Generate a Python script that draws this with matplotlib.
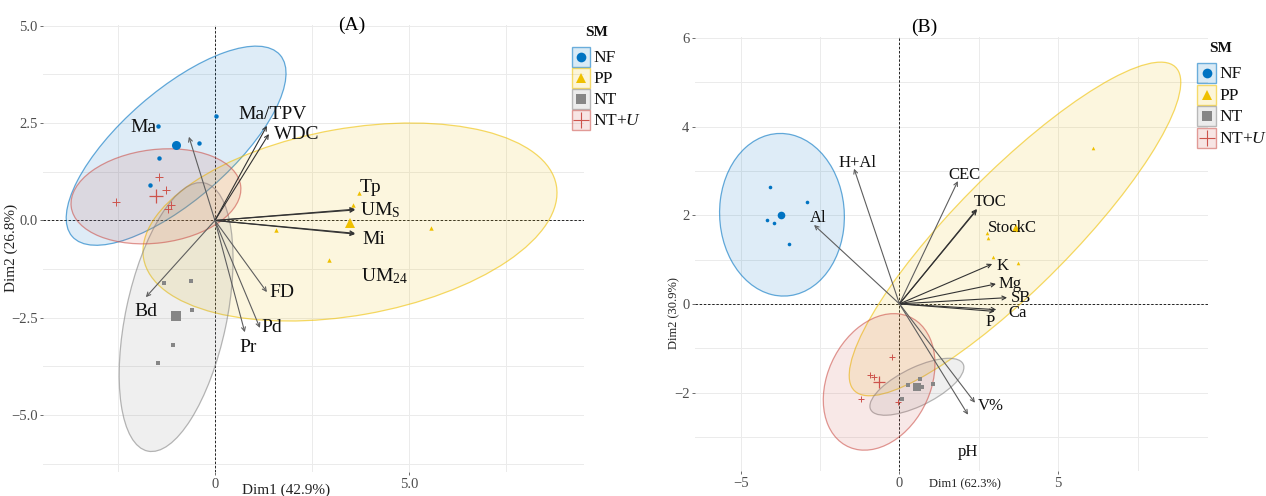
import matplotlib
matplotlib.use('Agg')
import matplotlib.pyplot as plt
import numpy as np
from matplotlib.patches import Ellipse, Rectangle
from matplotlib.colors import to_rgba

plt.rcParams['font.family'] = ['Liberation Serif', 'DejaVu Serif']
plt.rcParams['mathtext.fontset'] = 'custom'
plt.rcParams['mathtext.rm'] = 'Liberation Serif'
plt.rcParams['mathtext.it'] = 'Liberation Serif:italic'
plt.rcParams['mathtext.bf'] = 'Liberation Serif:bold'

# ---------------- groups ----------------
groups = ['NF', 'PP', 'NT', 'NT+U']
group_labels = ['NF', 'PP', 'NT', r'NT+$\mathit{U}$']
colors = ['#0073C2', '#EFC000', '#868686', '#CD534C']
markers = ['o', '^', 's', '+']

# ---------------- Panel A: individuals ----------------
a_nf_x = [-1.47, -0.41, 0.03, -1.44, -1.68]
a_nf_y = [2.43, 1.99, 2.69, 1.61, 0.91]
a_pp_x = [3.71, 3.56, 5.57, 1.57, 2.94]
a_pp_y = [0.71, 0.40, -0.19, -0.24, -1.02]
a_nt_x = [-1.31, -0.62, -0.59, -1.08, -1.47]
a_nt_y = [-1.61, -1.56, -2.30, -3.20, -3.66]
a_ntu_x = [-2.55, -1.44, -1.26, -1.13, -1.21]
a_ntu_y = [0.48, 1.12, 0.78, 0.40, 0.30]

# Panel A: ellipses (center x, center y, semi-axis a, semi-axis b, angle)
a_ell_cx = [-1.00, 3.48, -1.00, -1.52]
a_ell_cy = [1.92, -0.04, -2.48, 0.62]
a_ell_a = [3.55, 5.40, 3.52, 2.20]
a_ell_b = [1.40, 2.40, 1.30, 1.20]
a_ell_ang = [41, 10, 78, 7]

# Panel A: variables
a_vars = ['Ma', 'Ma/TPV', 'WDC', 'Tp', r'UM$_{\mathrm{S}}$', 'Mi', r'UM$_{\mathrm{24}}$', 'FD', 'Pd', 'Pr', 'Bd']
a_var_x = [-0.67, 1.34, 1.39, 3.61, 3.61, 3.61, 3.61, 1.34, 1.16, 0.77, -1.78]
a_var_y = [2.15, 2.43, 2.22, 0.29, 0.27, -0.35, -0.33, -1.84, -2.76, -2.87, -1.97]
a_lab_x = [-1.83, 1.49, 2.11, 4.02, 4.25, 4.10, 4.38, 1.73, 1.47, 0.85, -1.78]
a_lab_y = [2.40, 2.71, 2.22, 0.84, 0.27, -0.50, -1.43, -1.86, -2.76, -3.25, -2.33]
a_var_dark = [False, True, True, True, True, True, True, False, False, False, False]

# ---------------- Panel B: individuals ----------------
b_nf_x = [-4.07, -2.91, -4.17, -3.95, -3.48]
b_nf_y = [2.64, 2.30, 1.89, 1.83, 1.35]
b_pp_x = [6.10, 2.76, 2.79, 2.95, 3.73]
b_pp_y = [3.52, 1.60, 1.49, 1.06, 0.92]
b_nt_x = [0.27, 0.65, 0.71, 1.05, 0.08]
b_nt_y = [-1.83, -1.69, -1.87, -1.80, -2.14]
b_ntu_x = [-0.23, -0.93, -0.80, -1.21, -0.04]
b_ntu_y = [-1.20, -1.60, -1.65, -2.14, -2.21]

b_ell_cx = [-3.70, 3.64, 0.55, -0.64]
b_ell_cy = [2.01, 1.69, -1.87, -1.76]
b_ell_a = [1.97, 6.26, 1.55, 1.88]
b_ell_b = [1.83, 1.50, 0.45, 1.39]
b_ell_ang = [-10, 34.6, 18, 31.6]

b_vars = ['H+Al', 'CEC', 'TOC', 'StockC', 'K', 'Mg', 'SB', 'Ca', 'P', 'Al', 'V%', 'pH']
b_var_x = [-1.43, 1.84, 2.44, 2.44, 2.92, 3.04, 3.39, 3.05, 3.00, -2.69, 2.38, 2.16]
b_var_y = [3.05, 2.77, 2.14, 2.12, 0.90, 0.45, 0.14, -0.13, -0.17, 1.78, -2.23, -2.50]
b_lab_x = [-1.31, 2.06, 2.85, 3.55, 3.26, 3.50, 3.83, 3.72, 2.85, -2.56, 2.88, 2.16]
b_lab_y = [3.18, 2.91, 2.30, 1.71, 0.86, 0.45, 0.14, -0.20, -0.41, 1.94, -2.30, -3.34]
b_var_dark = [False, False, True, True, True, True, True, True, True, False, False, False]

W, H = 1266, 496
fig = plt.figure(figsize=(W / 100, H / 100), dpi=100)


def px_axes(l, t, r, b):
    return fig.add_axes([l / W, 1 - b / H, (r - l) / W, (b - t) / H])


def style_axes(ax):
    for s in ax.spines.values():
        s.set_visible(False)
    ax.grid(True, which='both', color='#ebebeb', lw=0.7)
    ax.set_axisbelow(True)
    ax.tick_params(which='major', length=2.5, width=0.6, color='#555555',
                   labelcolor='#4d4d4d', labelsize=10.5, pad=1.5)
    ax.tick_params(which='minor', length=0)
    ax.axhline(0, color='#222222', lw=0.7, ls=(0, (2.5, 1.8)), zorder=1)
    ax.axvline(0, color='#222222', lw=0.7, ls=(0, (2.5, 1.8)), zorder=1)


def draw_panel(ax, pts, ecx, ecy, ea, eb, eang, vx, vy, lx, ly, names, dark, fs, ms_small, ms_big):
    for i, c in enumerate(colors):
        ax.add_patch(Ellipse((ecx[i], ecy[i]), 2 * ea[i], 2 * eb[i], angle=eang[i],
                             facecolor=to_rgba(c, 0.13), edgecolor=to_rgba(c, 0.6),
                             lw=0.9, zorder=2))
    for i, (c, m) in enumerate(zip(colors, markers)):
        xs, ys = pts[i]
        if m == '+':
            ax.plot(xs, ys, ls='', marker=m, color=c, ms=ms_small * 1.8, mew=0.7, zorder=4)
            ax.plot([np.mean(xs)], [np.mean(ys)], ls='', marker=m, color=c, ms=ms_big * 1.5, mew=0.9, zorder=4)
        else:
            ax.plot(xs, ys, ls='', marker=m, color=c, ms=ms_small, mew=0, zorder=4)
            ax.plot([np.mean(xs)], [np.mean(ys)], ls='', marker=m, color=c, ms=ms_big, mew=0, zorder=4)
    for i in range(len(names)):
        col = '#333333' if dark[i] else '#5e5e5e'
        ax.annotate('', xy=(vx[i], vy[i]), xytext=(0, 0),
                    arrowprops=dict(arrowstyle='->', color=col, lw=0.8,
                                    shrinkA=0, shrinkB=0, mutation_scale=7),
                    zorder=5)
        ax.text(lx[i], ly[i], names[i], ha='center', va='center', fontsize=fs,
                color='#111111', zorder=6)


# ---------------- Panel A ----------------
axA = px_axes(43, 25, 584, 472)
style_axes(axA)
axA.set_xlim(-4.43, 9.51)
axA.set_ylim(-6.46, 5.02)
axA.set_xticks([0, 5])
axA.set_xticklabels(['0', '5.0'])
axA.set_xticks([-2.5, 2.5, 7.5], minor=True)
axA.set_yticks([-5, -2.5, 0, 2.5, 5])
axA.set_yticklabels(['\u22125.0', '\u22122.5', '0.0', '2.5', '5.0'])
axA.set_yticks([-6.25, -3.75, -1.25, 1.25, 3.75], minor=True)
draw_panel(axA,
           [(a_nf_x, a_nf_y), (a_pp_x, a_pp_y), (a_nt_x, a_nt_y), (a_ntu_x, a_ntu_y)],
           a_ell_cx, a_ell_cy, a_ell_a, a_ell_b, a_ell_ang,
           a_var_x, a_var_y, a_lab_x, a_lab_y, a_vars, a_var_dark, 14, 3.2, 6.5)

# ---------------- Panel B ----------------
axB = px_axes(695, 37, 1208, 471)
style_axes(axB)
axB.set_xlim(-6.44, 9.72)
axB.set_ylim(-3.77, 6.02)
axB.set_xticks([-5, 0, 5])
axB.set_xticklabels(['\u22125', '0', '5'])
axB.set_xticks([-2.5, 2.5, 7.5], minor=True)
axB.set_yticks([-2, 0, 2, 4, 6])
axB.set_yticklabels(['\u22122', '0', '2', '4', '6'])
axB.set_yticks([-3, -1, 1, 3, 5], minor=True)
draw_panel(axB,
           [(b_nf_x, b_nf_y), (b_pp_x, b_pp_y), (b_nt_x, b_nt_y), (b_ntu_x, b_ntu_y)],
           b_ell_cx, b_ell_cy, b_ell_a, b_ell_b, b_ell_ang,
           b_var_x, b_var_y, b_lab_x, b_lab_y, b_vars, b_var_dark, 12, 2.6, 5.5)

# ---------------- titles & axis labels ----------------
fig.text(352 / W, 1 - 25 / H, '(A)', ha='center', va='center', fontsize=14)
fig.text(924 / W, 1 - 27 / H, '(B)', ha='center', va='center', fontsize=14)
fig.text(286 / W, 1 - 490 / H, 'Dim1 (42.9%)', ha='center', va='center', fontsize=11, color='#222222')
fig.text(11 / W, 1 - 248 / H, 'Dim2 (26.8%)', ha='center', va='center', fontsize=11,
         rotation=90, color='#222222')
fig.text(965 / W, 1 - 484 / H, 'Dim1 (62.3%)', ha='center', va='center', fontsize=9, color='#222222')
fig.text(674 / W, 1 - 313 / H, 'Dim2 (30.9%)', ha='center', va='center', fontsize=9,
         rotation=90, color='#222222')

# ---------------- legends (drawn on a pixel-space overlay) ----------------
lax = fig.add_axes([0, 0, 1, 1], zorder=10)
lax.set_xlim(0, W)
lax.set_ylim(H, 0)
lax.axis('off')
lax.patch.set_alpha(0)

legend_specs = [
    # title x, title y, key left, key width, key height, first row y, row step, label fontsize
    (597, 32, 572, 18, 20, 57, 21, 12.5),
    (1221, 48, 1197, 19, 20, 73, 21.7, 12.5),
]
for (tx, ty, kx, kw, kh, ry0, step, fsz) in legend_specs:
    lax.text(tx, ty, 'SM', ha='center', va='center', fontsize=11, fontweight='bold', color='#111111')
    for j, (c, m, lab) in enumerate(zip(colors, markers, group_labels)):
        yc = ry0 + j * step
        lax.add_patch(Rectangle((kx, yc - kh / 2), kw, kh, facecolor=to_rgba(c, 0.15),
                                edgecolor=to_rgba(c, 0.55), lw=1.0))
        if m == '+':
            lax.plot([kx + kw / 2], [yc], ls='', marker=m, color=c, ms=11, mew=0.8)
        else:
            lax.plot([kx + kw / 2], [yc], ls='', marker=m, color=c, ms=7 if m != 's' else 6.5, mew=0)
        lax.text(kx + kw + 3, yc + 1, lab, ha='left', va='center', fontsize=fsz, color='#111111')

fig.savefig('out.png', dpi=100)
